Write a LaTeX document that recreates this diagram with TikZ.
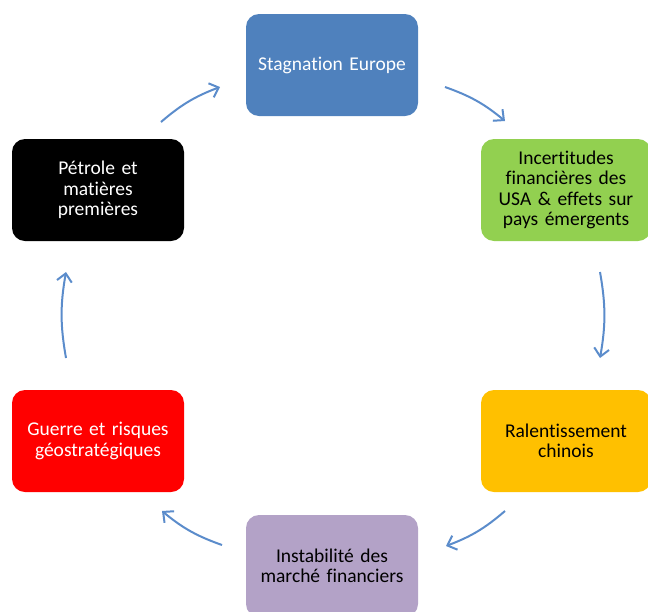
\documentclass[tikz,border=0pt]{standalone}
\usepackage{fontspec}
\setmainfont[Ligatures={NoCommon},WordSpace=0.8]{Carlito}
\usetikzlibrary{arrows.meta}
\definecolor{cblue}{HTML}{4F81BD}
\definecolor{cgreen}{HTML}{92D050}
\definecolor{cred}{HTML}{FF0000}
\definecolor{corange}{HTML}{FFC000}
\definecolor{cpurple}{HTML}{B3A2C7}
\definecolor{carrow}{HTML}{5B8CCB}
\tikzset{
  box/.style={rounded corners=13pt, minimum width=172pt, minimum height=102pt, inner sep=2pt,
    align=center, font=\fontsize{19.5}{20.5}\selectfont, text width=166pt},
  link/.style={draw=carrow, line width=2pt, -{Straight Barb[length=8pt,width=15pt,line width=2pt]}}
}
\begin{document}
\begin{tikzpicture}[x=1pt,y=-1pt]
\useasboundingbox (0,0) rectangle (648,611);
\node[box, fill=cblue, text=white] (se) at (332,65) {Stagnation Europe};
\node[box, fill=cgreen, text=black, minimum width=170pt] (inc) at (566,190) {Incertitudes\\financières des\\USA \& effets sur\\pays émergents};
\node[box, fill=corange, text=black, minimum width=170pt] (ral) at (566,441) {Ralentissement\\chinois};
\node[box, fill=cpurple, text=black] (ins) at (332,566) {Instabilité des\\marché financiers};
\node[box, fill=cred, text=white] (gue) at (98,441) {Guerre et risques\\géostratégiques};
\node[box, fill=black, text=white] (pet) at (98,190) {Pétrole et\\matières\\premières};
\coordinate (a1s) at (445,87); \coordinate (a1e) at (505,121);
\coordinate (a2s) at (600,272); \coordinate (a2e) at (600,358);
\coordinate (a3s) at (505,511); \coordinate (a3e) at (446,546);
\coordinate (a4s) at (222,545); \coordinate (a4e) at (162,511);
\coordinate (a5s) at (66,358); \coordinate (a5e) at (66,272);
\coordinate (a6s) at (161,122); \coordinate (a6e) at (220,87);
\draw[link] (a1s) to[bend left=10] (a1e);
\draw[link] (a2s) to[bend left=10] (a2e);
\draw[link] (a3s) to[bend left=10] (a3e);
\draw[link] (a4s) to[bend left=10] (a4e);
\draw[link] (a5s) to[bend left=10] (a5e);
\draw[link] (a6s) to[bend left=10] (a6e);
\end{tikzpicture}
\end{document}
